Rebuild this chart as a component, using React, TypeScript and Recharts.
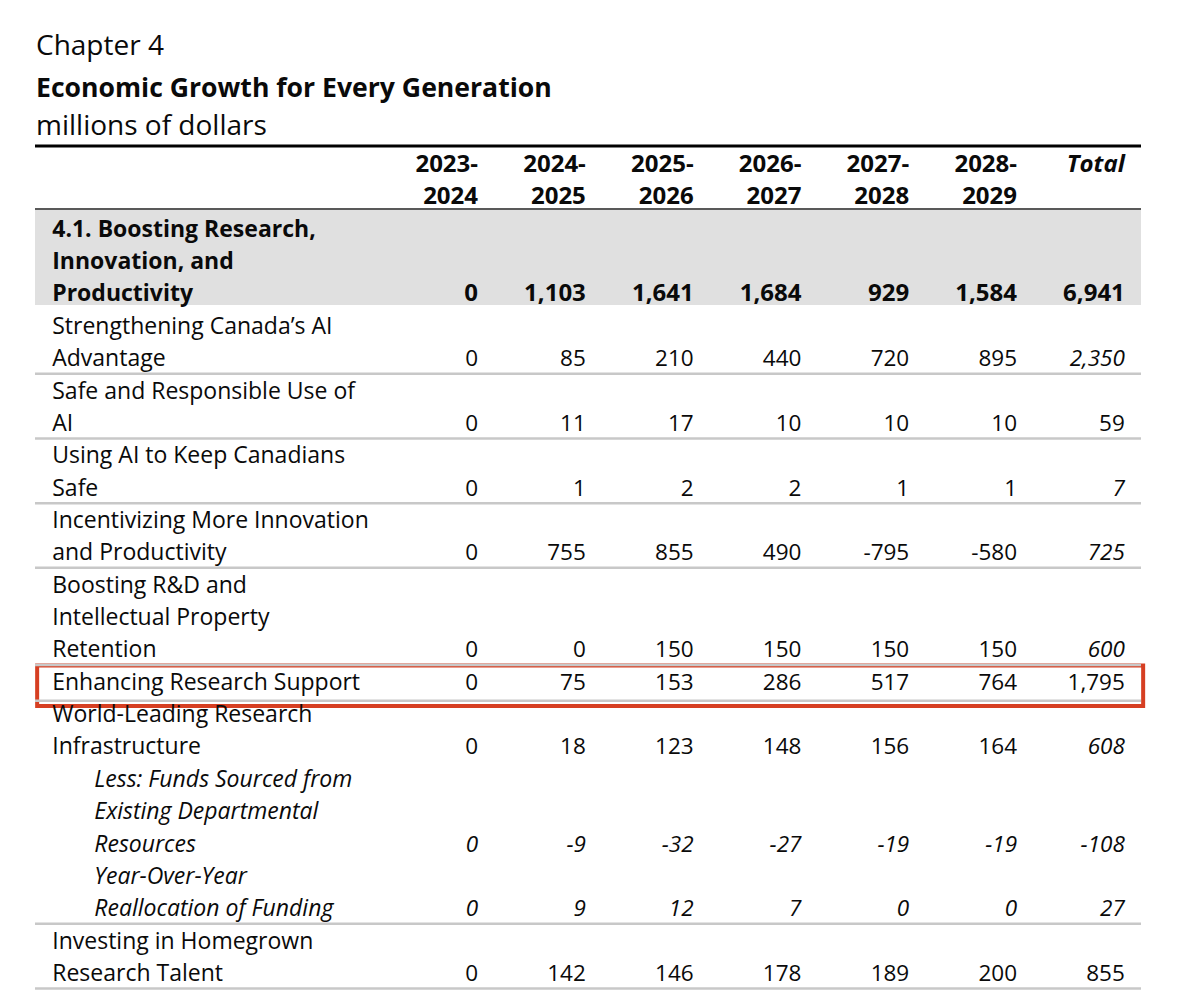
import { ReferenceArea, ReferenceLine, Scatter, ScatterChart, XAxis, YAxis } from "recharts";

const FONT = "'Open Sans', 'Noto Sans', sans-serif";

// header
const headerTop = ["2023-", "2024-", "2025-", "2026-", "2027-", "2028-", "Total"];
const headerBottom = ["2024", "2025", "2026", "2027", "2028", "2029", ""];

// row labels (as wrapped in the source)
const boostingLabel = ["4.1. Boosting Research,", "Innovation, and", "Productivity"];
const aiAdvantageLabel = ["Strengthening Canada’s AI", "Advantage"];
const safeAiLabel = ["Safe and Responsible Use of", "AI"];
const aiSafetyLabel = ["Using AI to Keep Canadians", "Safe"];
const innovationLabel = ["Incentivizing More Innovation", "and Productivity"];
const rdLabel = ["Boosting R&D and", "Intellectual Property", "Retention"];
const supportLabel = ["Enhancing Research Support"];
const infraLabel = ["World-Leading Research", "Infrastructure"];
const lessFundsLabel = ["Less: Funds Sourced from", "Existing Departmental", "Resources"];
const reallocLabel = ["Year-Over-Year", "Reallocation of Funding"];
const talentLabel = ["Investing in Homegrown", "Research Talent"];

// values: 2023-24 .. 2028-29, Total
const boostingResearch = [0, 1103, 1641, 1684, 929, 1584, 6941];
const aiAdvantage = [0, 85, 210, 440, 720, 895, 2350];
const safeAi = [0, 11, 17, 10, 10, 10, 59];
const aiSafety = [0, 1, 2, 2, 1, 1, 7];
const innovation = [0, 755, 855, 490, -795, -580, 725];
const rdRetention = [0, 0, 150, 150, 150, 150, 600];
const researchSupport = [0, 75, 153, 286, 517, 764, 1795];
const researchInfra = [0, 18, 123, 148, 156, 164, 608];
const lessFunds = [0, -9, -32, -27, -19, -19, -108];
const reallocation = [0, 9, 12, 7, 0, 0, 27];
const researchTalent = [0, 142, 146, 178, 189, 200, 855];

type Kind = "group" | "item" | "sub";
type Row = {
  label: string[];
  values: number[];
  kind: Kind;
  italicTotal?: boolean;
  rule?: boolean;
  highlight?: boolean;
};

const rows: Row[] = [
  { label: boostingLabel, values: boostingResearch, kind: "group" },
  { label: aiAdvantageLabel, values: aiAdvantage, kind: "item", italicTotal: true, rule: true },
  { label: safeAiLabel, values: safeAi, kind: "item", rule: true },
  { label: aiSafetyLabel, values: aiSafety, kind: "item", italicTotal: true, rule: true },
  { label: innovationLabel, values: innovation, kind: "item", italicTotal: true, rule: true },
  { label: rdLabel, values: rdRetention, kind: "item", italicTotal: true, rule: true },
  { label: supportLabel, values: researchSupport, kind: "item", rule: true, highlight: true },
  { label: infraLabel, values: researchInfra, kind: "item", italicTotal: true },
  { label: lessFundsLabel, values: lessFunds, kind: "sub" },
  { label: reallocLabel, values: reallocation, kind: "sub", rule: true },
  { label: talentLabel, values: researchTalent, kind: "item", rule: true },
];

type CellPt = {
  x: number;
  y: number;
  text: string;
  anchor: "start" | "end";
  bold: boolean;
  italic: boolean;
};

const fmt = (v: number) => v.toLocaleString("en-US");

const cells: CellPt[] = [];
headerTop.forEach((t, i) => cells.push({ x: i, y: 0, text: t, anchor: "end", bold: true, italic: i === 6 }));
headerBottom.forEach((t, i) => t && cells.push({ x: i, y: 1, text: t, anchor: "end", bold: true, italic: false }));

const rules: number[] = [];
let band: [number, number] = [0, 0];
let box: [number, number] = [0, 0];
let line = 2;
rows.forEach((row) => {
  const group = row.kind === "group";
  const sub = row.kind === "sub";
  row.label.forEach((t, i) =>
    cells.push({ x: sub ? -3.56 : -3.95, y: line + i, text: t, anchor: "start", bold: group, italic: sub }),
  );
  const last = line + row.label.length - 1;
  row.values.forEach((v, j) =>
    cells.push({
      x: j,
      y: last,
      text: fmt(v),
      anchor: "end",
      bold: group,
      italic: sub || (j === 6 && !!row.italicTotal),
    }),
  );
  if (group) band = [line - 0.58, last + 0.36];
  if (row.highlight) box = [line - 0.5, last + 0.75];
  if (row.rule) rules.push(last + (row.highlight ? 0.59 : 0.48));
  line = last + 1;
});

const CellText = (props: any) => {
  const { cx, cy, payload } = props;
  const isLabel = payload.anchor === "start";
  const size = isLabel ? 23 : payload.bold ? 24 : 22.5;
  return (
    <text
      x={cx}
      y={cy + 8}
      textAnchor={payload.anchor}
      fontFamily={FONT}
      fontSize={size}
      fontWeight={payload.bold ? 700 : 400}
      fontStyle={payload.italic ? "italic" : "normal"}
      fill="#0a0a0a"
    >
      {payload.text}
    </text>
  );
};

const LINE = 32.36;
const Y_MIN = -0.6;
const Y_MAX = 25.7;

export default function App() {
  return (
    <div style={{ position: "absolute", left: 0, top: 0, width: 1200, height: 996, background: "#fff" }}>
      <svg width={1200} height={150} style={{ position: "absolute", left: 0, top: 0 }}>
        <text x={36} y={55} fontFamily={FONT} fontSize={28} fill="#0a0a0a">
          Chapter 4
        </text>
        <text x={36} y={97} fontFamily={FONT} fontSize={26.6} fontWeight={700} fill="#0a0a0a">
          Economic Growth for Every Generation
        </text>
        <text x={36} y={135} fontFamily={FONT} fontSize={28} fill="#0a0a0a">
          millions of dollars
        </text>
      </svg>
      <div style={{ position: "absolute", left: 0, top: 0 }}>
        <ScatterChart
          width={1200}
          height={996}
          margin={{ top: 164 + Y_MIN * LINE, right: 59, bottom: 996 - (164 + Y_MAX * LINE), left: 35 }}
        >
          <XAxis type="number" dataKey="x" domain={[-4.11, 6.15]} hide allowDataOverflow />
          <YAxis type="number" dataKey="y" domain={[Y_MIN, Y_MAX]} reversed hide allowDataOverflow />
          <ReferenceArea y1={band[0]} y2={band[1]} fill="#e0e0e0" fillOpacity={1} stroke="none" />
          <ReferenceLine y={-0.556} stroke="#000" strokeWidth={3} />
          <ReferenceLine y={1.39} stroke="#222" strokeWidth={1.5} />
          {rules.map((r) => (
            <ReferenceLine key={r} y={r} stroke="#c8c8c8" strokeWidth={2.5} />
          ))}
          <ReferenceArea
            x1={-4.09}
            x2={6.17}
            y1={box[0]}
            y2={box[1]}
            fill="none"
            stroke="#d63f22"
            strokeWidth={4}
            ifOverflow="visible"
          />
          <Scatter data={cells} shape={CellText} isAnimationActive={false} />
        </ScatterChart>
      </div>
    </div>
  );
}
